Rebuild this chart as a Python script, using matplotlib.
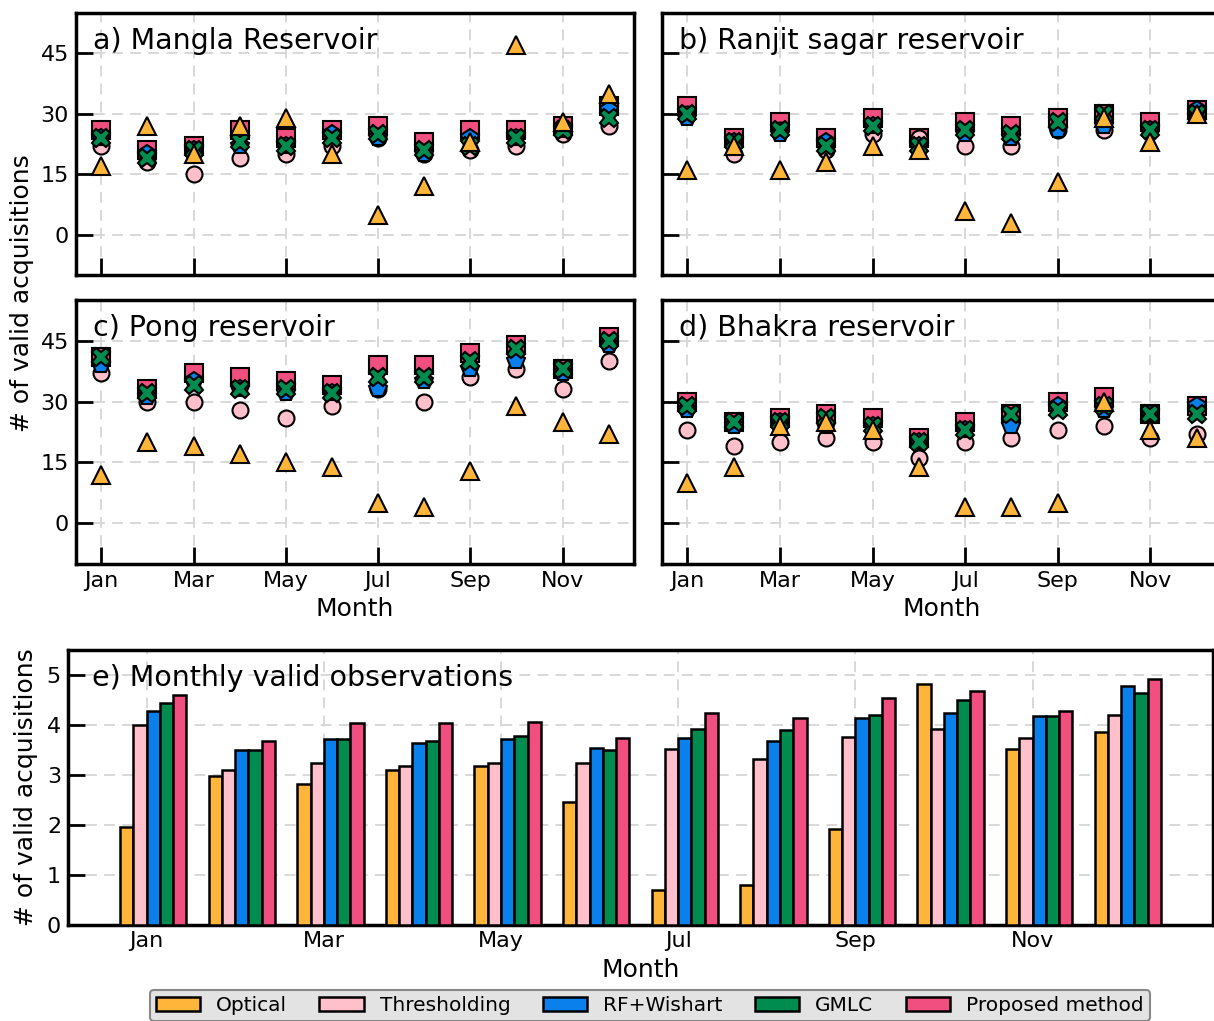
import numpy as np
import matplotlib
matplotlib.use("Agg")
from matplotlib import pyplot as plt

months = ["Jan", "Feb", "Mar", "Apr", "May", "Jun", "Jul", "Aug", "Sep", "Oct", "Nov", "Dec"]
methods = ["Optical", "Thresholding", "RF+Wishart", "GMLC", "Proposed method"]
colors = ["#ffb43a", "#ffc0cb", "#0a80ec", "#008c4e", "#f04f7f"]
markers = ["^", "o", "p", "X", "s"]

titles = ["a) Mangla Reservoir", "b) Ranjit sagar reservoir", "c) Pong reservoir", "d) Bhakra reservoir"]

# valid acquisitions per month, order: Optical, Thresholding, RF+Wishart, GMLC, Proposed
mangla = [
    [17, 27, 20, 27, 29, 20, 5, 12, 23, 47, 28, 35],
    [22, 18, 15, 19, 20, 22, 24, 20, 21, 22, 25, 27],
    [24, 20, 21, 22, 22, 25, 24, 20, 24, 24, 26, 31],
    [24, 19, 21, 23, 22, 24, 25, 21, 22, 24, 26, 29],
    [26, 21, 22, 26, 24, 26, 27, 23, 26, 26, 27, 32],
]
ranjit = [
    [16, 22, 16, 18, 22, 21, 6, 3, 13, 29, 23, 30],
    [30, 20, 26, 21, 25, 24, 22, 22, 26, 26, 26, 30],
    [29, 23, 25, 23, 27, 22, 25, 24, 26, 27, 26, 31],
    [30, 23, 26, 22, 27, 22, 26, 25, 28, 30, 26, 30],
    [32, 24, 28, 24, 29, 24, 28, 27, 29, 30, 28, 31],
]
pong = [
    [12, 20, 19, 17, 15, 14, 5, 4, 13, 29, 25, 22],
    [37, 30, 30, 28, 26, 29, 33, 30, 36, 38, 33, 40],
    [39, 31, 35, 33, 32, 32, 33, 35, 38, 40, 37, 44],
    [41, 32, 34, 33, 33, 32, 36, 36, 40, 43, 38, 45],
    [41, 33, 37, 36, 35, 34, 39, 39, 42, 44, 38, 46],
]
bhakra = [
    [10, 14, 24, 25, 23, 14, 4, 4, 5, 30, 23, 21],
    [23, 19, 20, 21, 20, 16, 20, 21, 23, 24, 21, 22],
    [28, 24, 25, 24, 24, 20, 23, 24, 29, 28, 27, 29],
    [29, 25, 25, 26, 24, 20, 23, 27, 28, 29, 27, 27],
    [30, 25, 26, 27, 26, 21, 25, 27, 30, 31, 27, 29],
]

monthly_obs = [
    [1.96, 2.98, 2.83, 3.11, 3.18, 2.47, 0.70, 0.80, 1.92, 4.83, 3.53, 3.86],
    [4.00, 3.11, 3.25, 3.18, 3.25, 3.25, 3.53, 3.32, 3.77, 3.93, 3.75, 4.21],
    [4.29, 3.51, 3.72, 3.65, 3.72, 3.54, 3.75, 3.68, 4.14, 4.25, 4.18, 4.79],
    [4.44, 3.51, 3.72, 3.69, 3.79, 3.50, 3.93, 3.90, 4.21, 4.50, 4.18, 4.65],
    [4.61, 3.69, 4.04, 4.04, 4.07, 3.75, 4.25, 4.14, 4.54, 4.68, 4.29, 4.93],
]

plt.rcParams['font.family'] = 'DejaVu Sans'
fig = plt.figure(figsize=(12.14, 10.21), dpi=100)
W, H = 1214.0, 1021.0


def box(l, t, r, b):
    return [l / W, 1 - b / H, (r - l) / W, (b - t) / H]


def style(ax):
    for s in ax.spines.values():
        s.set_linewidth(2.5)
    ax.tick_params(direction='in', length=12, width=2, labelsize=16, pad=5)
    ax.grid(True, linestyle=(0, (6, 4)), color='#d6d6d6', linewidth=1.3)
    ax.set_axisbelow(True)


x = np.arange(12)
rects = [box(76, 13, 634, 275), box(662, 13, 1222, 275),
         box(76, 300, 634, 564), box(662, 300, 1222, 564)]
data = [mangla, ranjit, pong, bhakra]
order = [4, 1, 2, 3, 0]
for k in range(4):
    ax = fig.add_axes(rects[k])
    style(ax)
    for i in order:
        ax.plot(x, data[k][i], linestyle='none', marker=markers[i], color=colors[i],
                markeredgecolor='black', markeredgewidth=1.5,
                markersize=13 if markers[i] != 'o' else 11.5, zorder=3)
    ax.set_ylim(-10, 55)
    ax.set_yticks([0, 15, 30, 45])
    ax.set_xticks(x[::2])
    ax.set_xticklabels(months[::2])
    ax.text(0.03, 0.895, titles[k], transform=ax.transAxes, fontsize=20.5, va='center', ha='left')
    if k < 2:
        ax.tick_params(labelbottom=False)
    else:
        ax.set_xlabel("Month", fontsize=18, labelpad=4)
    if k % 2 == 1:
        ax.tick_params(labelleft=False)

fig.text(22 / W, 1 - 293 / H, "# of valid acquisitions", rotation=90, fontsize=18,
         ha='center', va='center')

ax = fig.add_axes(box(68, 650, 1213, 925))
style(ax)
w = 0.15
for i in range(5):
    ax.bar(x + (i - 1.5) * w, monthly_obs[i], width=w, color=colors[i],
           edgecolor='black', linewidth=1.8, label=methods[i], zorder=3)
ax.set_ylim(0, 5.5)
ax.set_xticks(x[::2])
ax.set_xticklabels(months[::2])
ax.set_yticks([0, 1, 2, 3, 4, 5])
ax.tick_params(axis='x', length=0, pad=4)
ax.set_xlabel("Month", fontsize=18, labelpad=5)
ax.set_ylabel("# of valid acquisitions", fontsize=18, labelpad=6)
ax.text(0.021, 0.9, "e) Monthly valid observations", transform=ax.transAxes, fontsize=20.5,
        va='center', ha='left')
leg = ax.legend(loc='upper center', bbox_to_anchor=(0.508, -65 / 275), ncol=5, fontsize=14.5,
                frameon=True, facecolor='#e3e3e3', edgecolor='#888888', framealpha=1,
                columnspacing=1.6, handlelength=2.2, borderpad=0.3, borderaxespad=0)
leg.get_frame().set_linewidth(1.5)

fig.savefig("out.png", dpi=100)
